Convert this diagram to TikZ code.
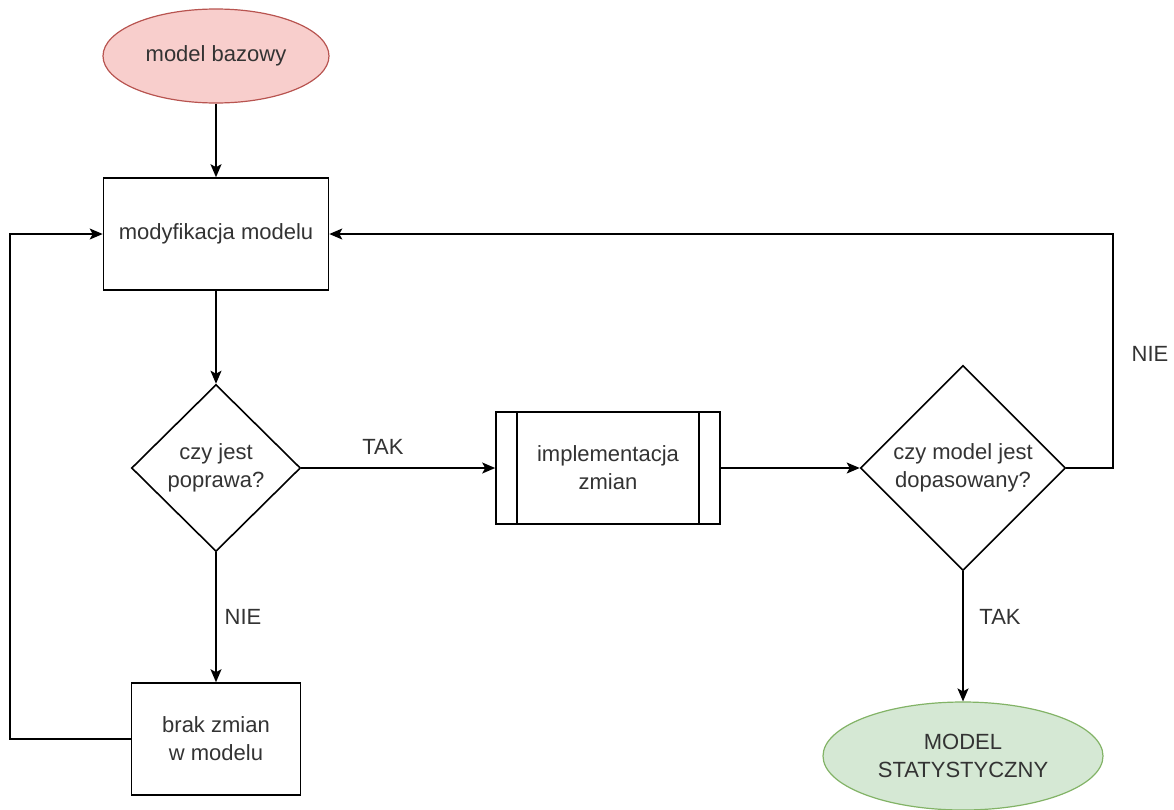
\documentclass[tikz,border=0pt]{standalone}
\usepackage{fontspec}
\setmainfont{Liberation Sans}
\usetikzlibrary{shapes.geometric,arrows.meta}
\definecolor{txt}{HTML}{333333}
\definecolor{pinkfill}{HTML}{F8CECC}
\definecolor{pinkline}{HTML}{B85450}
\definecolor{greenfill}{HTML}{D5E8D4}
\definecolor{greenline}{HTML}{82B366}
\begin{document}
\begin{tikzpicture}[x=1pt,y=-1pt,
  every node/.style={font=\fontsize{22}{28}\selectfont, text=txt, align=center, inner sep=0pt},
  procbox/.style={draw, line width=1.6pt, rectangle, fill=white},
  decision/.style={draw, line width=1.6pt, diamond, fill=white},
  terminal/.style={draw, line width=1.2pt, ellipse},
  flow/.style={line width=1.6pt, -{Stealth[length=13pt,width=11pt,inset=3pt]}},
  lbl/.style={fill=white, inner sep=1pt}]
\useasboundingbox (0,0) rectangle (1174,809);

% nodes
\node[terminal, fill=pinkfill, draw=pinkline, minimum width=226pt, minimum height=94pt] (base) at (216,56) {model bazowy};
\node[procbox, minimum width=225pt, minimum height=112pt] (mod) at (216,234) {modyfikacja modelu};
\node[decision, minimum width=169pt, minimum height=167pt] (dec1) at (216,468) {czy jest\\poprawa?};
\node[procbox, minimum width=224pt, minimum height=112pt] (sub) at (608,468) {implementacja\\zmian};
\draw[line width=1.6pt] ([xshift=22pt]sub.north west) -- ([xshift=22pt]sub.south west)
      ([xshift=-22pt]sub.north east) -- ([xshift=-22pt]sub.south east);
\node[decision, minimum width=205pt, minimum height=205pt] (dec2) at (963,468) {czy model jest\\dopasowany?};
\node[procbox, minimum width=169pt, minimum height=112pt] (nochg) at (216,739) {brak zmian\\w modelu};
\node[terminal, fill=greenfill, draw=greenline, minimum width=280pt, minimum height=108pt] (final) at (963,756) {MODEL\\STATYSTYCZNY};

% loop corners
\coordinate (rtop) at (1113,234);
\coordinate (rbot) at (1113,468);
\coordinate (lbot) at (10,739);
\coordinate (ltop) at (10,234);

% connectors
\draw[flow] (base.south) -- (mod.north);
\draw[flow] (mod.south) -- (dec1.north);
\draw[flow] (dec1.east) -- (sub.west);
\draw[flow] (sub.east) -- (dec2.west);
\draw[flow] (dec2.east) -- (rbot) -- (rtop) -- (mod.east);
\draw[flow] (dec1.south) -- (nochg.north);
\draw[flow] (dec2.south) -- (final.north);
\draw[flow] (nochg.west) -- (lbot) -- (ltop) -- (mod.west);

% labels
\node[lbl] (l1) at (383,447) {TAK};
\node[lbl] (l2) at (243,617) {NIE};
\node[lbl] (l3) at (1000,617) {TAK};
\node[lbl] (l4) at (1150,354) {NIE};
\end{tikzpicture}
\end{document}
